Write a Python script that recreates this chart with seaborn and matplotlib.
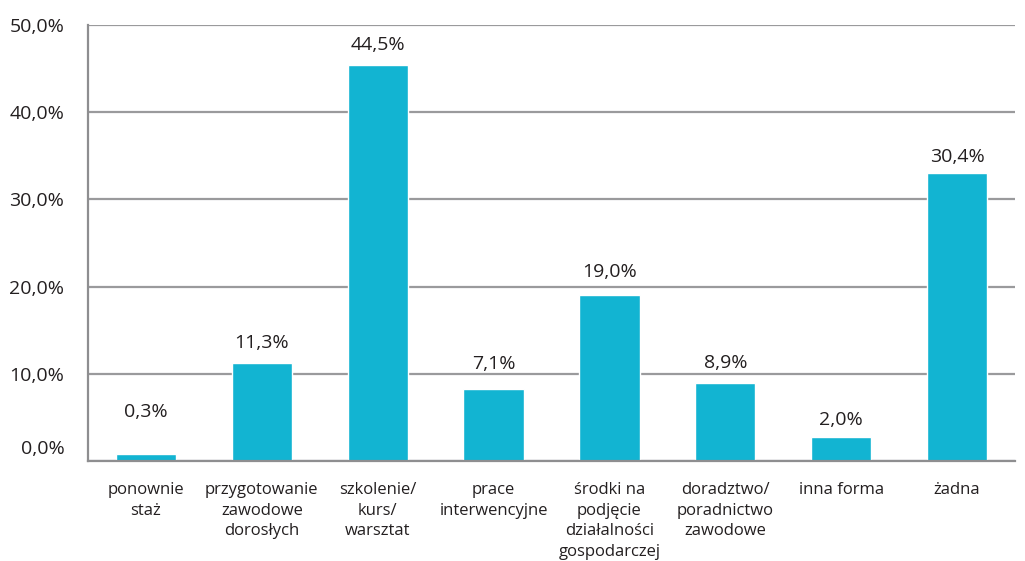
import matplotlib
matplotlib.use("Agg")
import matplotlib.pyplot as plt
import matplotlib.transforms as mtransforms
import seaborn as sns
import numpy as np
import pandas as pd

categories = ["ponownie\nstaż", "przygotowanie\nzawodowe\ndorosłych", "szkolenie/\nkurs/\nwarsztat",
              "prace\ninterwencyjne", "środki na\npodjęcie\ndziałalności\ngospodarczej",
              "doradztwo/\nporadnictwo\nzawodowe", "inna forma", "żadna"]
bar_values = [0.8, 11.2, 45.4, 8.3, 19.0, 8.9, 2.8, 33.0]
value_labels = ["0,3%", "11,3%", "44,5%", "7,1%", "19,0%", "8,9%", "2,0%", "30,4%"]
yticks = [0, 10, 20, 30, 40, 50]
ytick_labels = ["0,0%", "10,0%", "20,0%", "30,0%", "40,0%", "50,0%"]

sns.set_theme(style="white")
plt.rcParams['font.family'] = ['Open Sans', 'DejaVu Sans']

fig = plt.figure(figsize=(10.25, 5.61), dpi=100)
ax = fig.add_axes([88/1025, 1 - 461/561, (1015-88)/1025, (461-25)/561])

df = pd.DataFrame({"cat": categories, "val": bar_values})
sns.barplot(data=df, x="cat", y="val", color="#12B4D2", saturation=1, width=0.52, ax=ax)

ax.set_ylim(0, 50)
ax.set_xlim(-0.5, len(categories) - 0.5)
ax.set_yticks(yticks)
ax.set_yticklabels(ytick_labels, fontsize=14, color="#231F20")
ax.tick_params(axis="y", length=0, pad=17)
ax.yaxis.grid(True, color="#9A9A9C", linewidth=1.6)
ax.set_axisbelow(True)
lbl0 = ax.get_yticklabels()[0]
lbl0.set_transform(lbl0.get_transform() + mtransforms.ScaledTranslation(0, 14/100, fig.dpi_scale_trans))

ax.set_xticks(range(len(categories)))
ax.set_xticklabels(categories, fontsize=12, color="#231F20", linespacing=1.4, va="top")
ax.tick_params(axis="x", which="major", length=0, pad=15)
ax.set_xticks(np.arange(-0.5, len(categories), 1), minor=True)
ax.tick_params(axis="x", which="minor", length=4, width=1.5, color="#8E8E90", direction="out")

for s in ["top", "right"]:
    ax.spines[s].set_visible(False)
for s in ["left", "bottom"]:
    ax.spines[s].set_color("#8E8E90")
    ax.spines[s].set_linewidth(1.6)

ax.set_xlabel("")
ax.set_ylabel("")

offsets = [30, 15, 14.5, 18, 17, 15, 12, 12]
for i, (v, lab) in enumerate(zip(bar_values, value_labels)):
    ax.annotate(lab, (i, v), xytext=(0, offsets[i]), textcoords="offset points",
                ha="center", va="center", fontsize=14, color="#231F20")

fig.savefig("out.png", dpi=100)
